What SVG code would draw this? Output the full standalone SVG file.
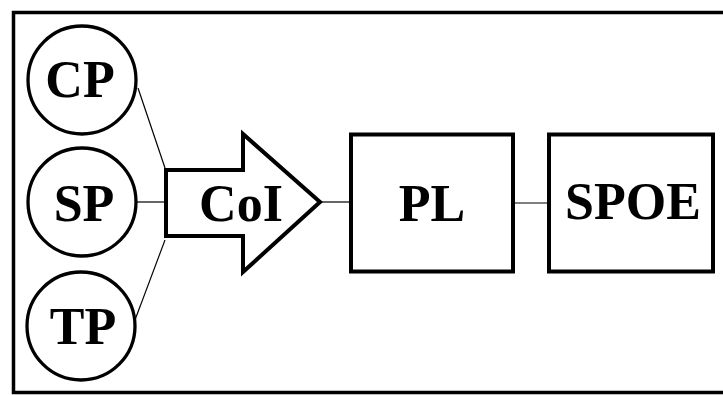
<svg xmlns="http://www.w3.org/2000/svg" width="723" height="395" viewBox="0 0 723 395">
<style>
.n{fill:#fff;stroke:#000;stroke-width:4}
.o{fill:#fff;stroke:#000;stroke-width:3.3}
.t{font-family:"Liberation Serif","Times New Roman",serif;font-weight:bold;font-size:52px;text-anchor:middle;fill:#000}
.c{stroke:#000;stroke-width:1.2;fill:none}
</style>
<rect x="0" y="0" width="723" height="395" fill="#fff"/>
<rect x="13.5" y="12.5" width="720" height="380" fill="none" stroke="#000" stroke-width="3.5"/>
<g id="connectors">
<line class="c" x1="138" y1="88" x2="165" y2="168"/>
<line class="c" x1="137" y1="202" x2="165" y2="202"/>
<line class="c" x1="135" y1="320" x2="165" y2="240"/>
<line class="c" x1="322" y1="202" x2="349" y2="202"/>
<line class="c" x1="514" y1="203" x2="547" y2="203"/>
</g>
<g id="CP"><circle class="o" cx="82" cy="80" r="54"/><text class="t" x="80" y="97">CP</text></g>
<g id="SP"><circle class="o" cx="82" cy="202" r="54"/><text class="t" x="84" y="221">SP</text></g>
<g id="TP"><circle class="o" cx="81" cy="326" r="54"/><text class="t" x="83" y="344">TP</text></g>
<g id="CoI"><polygon class="n" points="166,170 243,170 243,134 320,202 243,272 243,236 166,236"/><text class="t" x="241" y="221">CoI</text></g>
<g id="PL"><rect class="n" x="351" y="134.5" width="162" height="137"/><text class="t" x="432" y="221">PL</text></g>
<g id="SPOE"><rect class="n" x="549" y="134.5" width="164" height="137"/><text class="t" x="633" y="219">SPOE</text></g>
</svg>
